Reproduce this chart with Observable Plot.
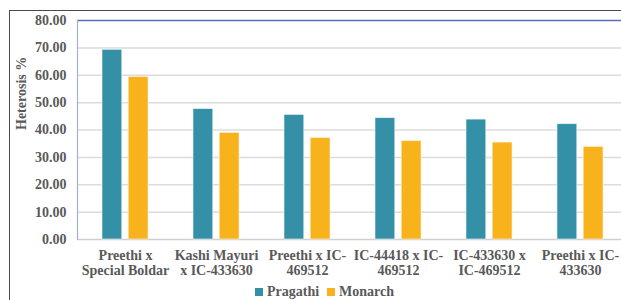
<!DOCTYPE html>
<html>
<head>
<meta charset="utf-8">
<script src="https://cdn.jsdelivr.net/npm/d3@7"></script>
<script src="https://cdn.jsdelivr.net/npm/@observablehq/plot@0.6"></script>
<style>
  html, body { margin: 0; padding: 0; background: #fff; overflow: hidden; width: 621px; height: 300px; }
  #wrap { position: relative; width: 621px; height: 300px; overflow: hidden; }
  #frame { position: absolute; left: 9px; top: 10px; width: 700px; height: 400px; border: 1.5px solid #4a4a4a; box-sizing: border-box; }
  #chart { position: absolute; left: 0; top: 0; }
  #legend { position: absolute; left: 255px; top: 284px; font: bold 14px "Liberation Serif", serif; color: #595959; display: flex; align-items: center; white-space: nowrap; }
  #legend .item { display: flex; align-items: center; margin-right: 8px; }
  #legend .sw { width: 8px; height: 8px; margin-right: 4px; }
</style>
</head>
<body>
<div id="wrap">
  <div id="frame"></div>
  <div id="chart"></div>
  <div id="legend"></div>
</div>
<script>
const categories = [
  "Preethi x\nSpecial Boldar",
  "Kashi Mayuri\nx IC-433630",
  "Preethi x IC-\n469512",
  "IC-44418 x IC-\n469512",
  "IC-433630 x\nIC-469512",
  "Preethi x IC-\n433630"
];
const pragathi = [69.3, 47.6, 45.5, 44.3, 43.8, 42.1];
const monarch  = [59.3, 38.9, 37.0, 35.9, 35.4, 33.8];
const seriesNames = ["Pragathi", "Monarch"];
const seriesColors = ["#3390a7", "#f8b31c"];
const yTicks = [0, 10, 20, 30, 40, 50, 60, 70, 80];

const data = [];
categories.forEach((c, i) => {
  data.push({cat: c, series: seriesNames[0], value: pragathi[i]});
  data.push({cat: c, series: seriesNames[1], value: monarch[i]});
});

const font = '"Liberation Serif", serif';
const bw = 46.7, barW = 20.5;

const chart = Plot.plot({
  width: 621,
  height: 282,
  marginTop: 20,
  marginBottom: 43,
  marginLeft: 77,
  marginRight: 0,
  style: {fontFamily: font, fontSize: "14px", fontWeight: "bold", color: "#595959", background: "transparent"},
  x: {domain: categories, range: [77, 628], paddingInner: 0.491, paddingOuter: 0.245, axis: null},
  y: {domain: [0, 80], ticks: yTicks, axis: null},
  color: {domain: seriesNames, range: seriesColors},
  marks: [
    Plot.ruleY(yTicks.filter(d => d > 0 && d < 80), {stroke: "#dcdcdc", strokeWidth: 1.5}),
    Plot.ruleY([0], {stroke: "#d0d0d0", strokeWidth: 1.5}),
    Plot.ruleY([80], {stroke: "#5a6fb8", strokeWidth: 1.3}),
    Plot.frame({anchor: "left", stroke: "#a3afd3", strokeWidth: 1.2}),
    Plot.barY(data.filter(d => d.series === seriesNames[0]), {x: "cat", y: "value", fill: "series", insetRight: bw - barW, stroke: "#eaf2f4", strokeWidth: 0.6}),
    Plot.barY(data.filter(d => d.series === seriesNames[1]), {x: "cat", y: "value", fill: "series", insetLeft: bw - barW, stroke: "#fdf0d5", strokeWidth: 0.6}),
    Plot.text(yTicks, {y: d => d, text: d => d3.format(".2f")(d), frameAnchor: "left", textAnchor: "end", dx: -11, fill: "#595959"}),
    Plot.text(categories, {x: d => d, y: 0, text: d => d, lineAnchor: "top", dy: 10, lineHeight: 1.08, fill: "#595959"}),
    Plot.text(["Heterosis %"], {frameAnchor: "left", rotate: -90, dx: -56, fill: "#595959"})
  ]
});
document.getElementById("chart").appendChild(chart);

const legend = document.getElementById("legend");
seriesNames.forEach((s, i) => {
  const item = document.createElement("div");
  item.className = "item";
  const sw = document.createElement("span");
  sw.className = "sw";
  sw.style.background = seriesColors[i];
  const t = document.createElement("span");
  t.textContent = s;
  item.appendChild(sw);
  item.appendChild(t);
  legend.appendChild(item);
});
</script>
</body>
</html>
